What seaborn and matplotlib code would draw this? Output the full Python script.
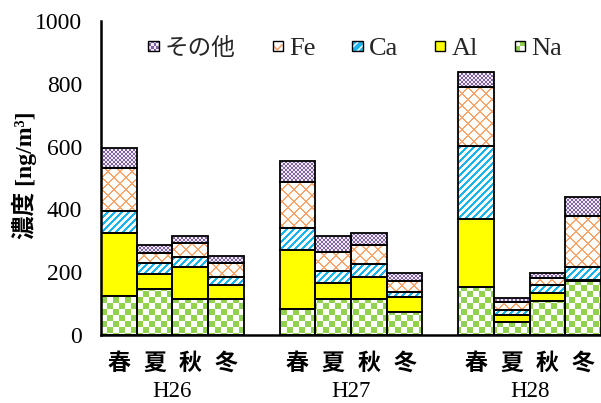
import numpy as np
import pandas as pd
import matplotlib
matplotlib.use('Agg')
import matplotlib.pyplot as plt
import seaborn as sns
from matplotlib.path import Path
from matplotlib.patches import Rectangle
from matplotlib.lines import Line2D
from matplotlib.legend_handler import HandlerBase
from matplotlib.transforms import blended_transform_factory
from matplotlib.colors import to_rgb

# ---------------- data ----------------
years = ['H26', 'H27', 'H28']
seasons = ['春', '夏', '秋', '冬']
na    = [125, 147, 115, 114,  84, 116, 116, 73, 154, 40, 109, 172]
al    = [201,  48, 103,  45, 187,  49,  68, 49, 214, 24,  24,   2]
ca    = [ 70,  34,  30,  25,  69,  38,  42, 16, 235, 16,  26,  44]
fe    = [136,  32,  44,  45, 146,  60,  62, 34, 187, 24,  24, 161]
other = [ 63,  25,  22,  24,  67,  53,  36, 27,  48, 15,  14,  61]
series_names = ['Na', 'Al', 'Ca', 'Fe', 'その他']
legend_order = ['その他', 'Fe', 'Ca', 'Al', 'Na']
y_ticks = [0, 200, 400, 600, 800, 1000]
y_label = '濃度 [ng/m³]'

# ---------------- style ----------------
sns.set_theme(style='white')
plt.rcParams['font.family'] = ['Liberation Serif', 'Noto Sans CJK JP']
plt.rcParams['axes.unicode_minus'] = False

W_IN, H_IN, DPI = 6.01, 4.03, 100
fig = plt.figure(figsize=(W_IN, H_IN), dpi=DPI)
L, R, B, T = 101 / 601, 1.0, 1 - 335 / 403, 1 - 21 / 403
ax = fig.add_axes([L, B, R - L, T - B])

cats = []
for i, yname in enumerate(years):
    for s in seasons:
        cats.append(f'{yname}{s}')
    if i < len(years) - 1:
        cats.append(f'gap{i}')
bar_cats = [c for c in cats if not c.startswith('gap')]

df = pd.DataFrame({'cat': bar_cats, 'Na': na, 'Al': al, 'Ca': ca,
                   'Fe': fe, 'その他': other})

bottom = np.zeros(len(bar_cats))
containers = {}
for name in series_names:
    sns.barplot(data=df, x='cat', y=name, order=cats, width=1.0,
                errorbar=None, color='black', bottom=bottom.copy(),
                facecolor='none', edgecolor='black', linewidth=1.3,
                zorder=3, ax=ax)
    containers[name] = ax.containers[-1]
    bottom += df[name].values

ax.set_xlim(-0.5, len(cats) - 0.5)
ax.set_ylim(y_ticks[0], y_ticks[-1])

# ---------------- textures (fill patterns) ----------------
Wpx = int(round((R - L) * W_IN * DPI))
Hpx = int(round((T - B) * H_IN * DPI))
rr, cc = np.mgrid[0:Hpx, 0:Wpx]


def tex(mask, c1, c0='white'):
    img = np.empty((Hpx, Wpx, 3))
    img[:] = to_rgb(c0)
    img[mask] = to_rgb(c1)
    return img


textures = {
    'Na': tex(((rr // 6 + cc // 6) % 2) == 0, '#92d050'),
    'Al': tex(np.ones_like(rr, dtype=bool), '#ffff00'),
    'Ca': tex(((rr + cc) % 7) < 3, '#19b4ec'),
    'Fe': tex((((rr + cc) % 12) < 2) | (((cc - rr) % 12) < 2), '#f8a46a'),
    'その他': tex(((rr // 2 + cc // 2) % 2) == 0, '#8064a2', '#efeaf6'),
}

xl = ax.get_xlim()
yl = ax.get_ylim()
for name in series_names:
    cont = containers[name]
    paths = [p.get_path().transformed(p.get_patch_transform()) for p in cont.patches]
    clip = Path.make_compound_path(*paths)
    im = ax.imshow(textures[name], extent=(xl[0], xl[1], yl[0], yl[1]),
                   origin='upper', aspect='auto', interpolation='nearest',
                   zorder=1)
    im.set_clip_path(clip, ax.transData)
ax.set_xlim(xl)
ax.set_ylim(yl)


# ---------------- legend ----------------
class SwatchHandler(HandlerBase):
    def __init__(self, kind):
        super().__init__()
        self.kind = kind

    def create_artists(self, legend, orig_handle, xdescent, ydescent,
                       width, height, fontsize, trans):
        s = 7.4
        x0 = -xdescent + (width - s) / 2
        y0 = -ydescent + (height - s) / 2
        arts = []
        k = self.kind
        if k == 'その他':
            n = 4
            d = s / n
            for i in range(n):
                for j in range(n):
                    col = '#8064a2' if (i + j) % 2 == 0 else '#efeaf6'
                    arts.append(Rectangle((x0 + i * d, y0 + j * d), d, d,
                                          facecolor=col, edgecolor='none'))
        elif k == 'Fe':
            arts.append(Rectangle((x0, y0), s, s, facecolor='white', edgecolor='none'))
            arts.append(Line2D([x0 + 0.1 * s, x0 + 0.45 * s, x0 + 0.9 * s],
                               [y0 + 0.5 * s, y0 + 0.12 * s, y0 + 0.6 * s],
                               color='#f8a46a', lw=1.2))
        elif k == 'Ca':
            arts.append(Rectangle((x0, y0), s, s, facecolor='#19b4ec',
                                  edgecolor='white', lw=0, hatch='////'))
        elif k == 'Al':
            arts.append(Rectangle((x0, y0), s, s, facecolor='#ffff00', edgecolor='none'))
        elif k == 'Na':
            h = s / 2
            arts.append(Rectangle((x0, y0), s, s, facecolor='white', edgecolor='none'))
            arts.append(Rectangle((x0 + h, y0 + h), h, h, facecolor='#92d050', edgecolor='none'))
            arts.append(Rectangle((x0, y0), h, h, facecolor='#92d050', edgecolor='none'))
        arts.append(Rectangle((x0, y0), s, s, fill=False, edgecolor='black', lw=1.0))
        for a in arts:
            a.set_transform(trans)
        return arts


handles = [Rectangle((0, 0), 1, 1) for _ in legend_order]
hmap = {h: SwatchHandler(k) for h, k in zip(handles, legend_order)}
leg = ax.legend(handles, legend_order, handler_map=hmap, ncol=5, loc='center',
                bbox_to_anchor=(0.508, 0.911), frameon=False, fontsize=19,
                handlelength=0.4, handleheight=0.6, handletextpad=0.22,
                columnspacing=1.4, borderaxespad=0, borderpad=0)
leg.get_texts()[0].set_fontsize(17)

# ---------------- axes ----------------
ax.set_xticks(range(len(cats)))
xt_labels = [c[-1] if not c.startswith('gap') else '' for c in cats]
ax.set_xticklabels(xt_labels, fontsize=16.5, family=['Noto Sans CJK JP'],
                   fontweight='bold')
ax.tick_params(axis='x', length=0, pad=12, colors='black')
ax.set_yticks(y_ticks)
ax.set_yticklabels([str(v) for v in y_ticks], fontsize=17)
ax.tick_params(axis='y', direction='in', length=5, width=1.5, pad=13.5,
               colors='black')
ax.set_xlabel('')
ax.set_ylabel(y_label, fontsize=17, fontweight='bold', color='black')
ax.yaxis.set_label_coords(-0.128, 0.51)

for sp in ['top', 'right']:
    ax.spines[sp].set_visible(False)
for sp in ['left', 'bottom']:
    ax.spines[sp].set_visible(True)
    ax.spines[sp].set_color('black')
    ax.spines[sp].set_linewidth(1.8)
    ax.spines[sp].set_zorder(5)

trans = blended_transform_factory(ax.transData, ax.transAxes)
for i, yname in enumerate(years):
    idx = [cats.index(f'{yname}{s}') for s in seasons]
    ax.text(np.mean(idx), -0.179, yname, transform=trans, ha='center',
            va='center', fontsize=16.5, color='black')

fig.savefig('out.png', dpi=DPI)
